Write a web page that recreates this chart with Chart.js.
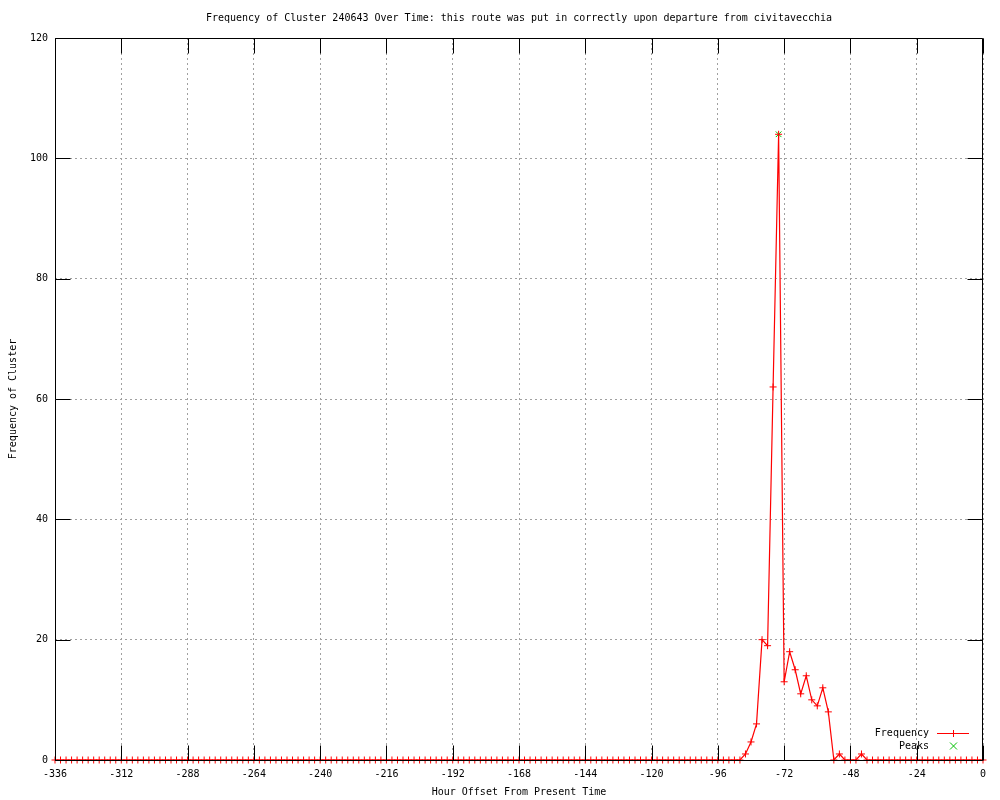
<!DOCTYPE html>
<html>
<head>
<meta charset="utf-8">
<title>Frequency of Cluster 240643</title>
<script src="https://cdn.jsdelivr.net/npm/chart.js@4/dist/chart.umd.min.js"></script>
<style>
  body { margin: 0; background: #fff; }
  canvas { display: block; }
</style>
</head>
<body>
<canvas id="chart" width="1000" height="800"></canvas>
<script>
// hour offsets, one sample every 2 hours
var hours = [
  -336, -334, -332, -330, -328, -326, -324, -322, -320, -318, -316, -314,
  -312, -310, -308, -306, -304, -302, -300, -298, -296, -294, -292, -290,
  -288, -286, -284, -282, -280, -278, -276, -274, -272, -270, -268, -266,
  -264, -262, -260, -258, -256, -254, -252, -250, -248, -246, -244, -242,
  -240, -238, -236, -234, -232, -230, -228, -226, -224, -222, -220, -218,
  -216, -214, -212, -210, -208, -206, -204, -202, -200, -198, -196, -194,
  -192, -190, -188, -186, -184, -182, -180, -178, -176, -174, -172, -170,
  -168, -166, -164, -162, -160, -158, -156, -154, -152, -150, -148, -146,
  -144, -142, -140, -138, -136, -134, -132, -130, -128, -126, -124, -122,
  -120, -118, -116, -114, -112, -110, -108, -106, -104, -102, -100, -98,
  -96, -94, -92, -90, -88, -86, -84, -82, -80, -78, -76, -74,
  -72, -70, -68, -66, -64, -62, -60, -58, -56, -54, -52, -50,
  -48, -46, -44, -42, -40, -38, -36, -34, -32, -30, -28, -26,
  -24, -22, -20, -18, -16, -14, -12, -10, -8, -6, -4, -2,
  0
];

var frequency = [
  0, 0, 0, 0, 0, 0, 0, 0, 0, 0, 0, 0,
  0, 0, 0, 0, 0, 0, 0, 0, 0, 0, 0, 0,
  0, 0, 0, 0, 0, 0, 0, 0, 0, 0, 0, 0,
  0, 0, 0, 0, 0, 0, 0, 0, 0, 0, 0, 0,
  0, 0, 0, 0, 0, 0, 0, 0, 0, 0, 0, 0,
  0, 0, 0, 0, 0, 0, 0, 0, 0, 0, 0, 0,
  0, 0, 0, 0, 0, 0, 0, 0, 0, 0, 0, 0,
  0, 0, 0, 0, 0, 0, 0, 0, 0, 0, 0, 0,
  0, 0, 0, 0, 0, 0, 0, 0, 0, 0, 0, 0,
  0, 0, 0, 0, 0, 0, 0, 0, 0, 0, 0, 0,
  0, 0, 0, 0, 0, 1, 3, 6, 20, 19, 62, 104,
  13, 18, 15, 11, 14, 10, 9, 12, 8, 0, 1, 0,
  0, 0, 1, 0, 0, 0, 0, 0, 0, 0, 0, 0,
  0, 0, 0, 0, 0, 0, 0, 0, 0, 0, 0, 0,
  0
];

var peakHours = [-74];
var peakValues = [104];

var titleText = 'Frequency of Cluster 240643 Over Time: this route was put in correctly upon departure from civitavecchia';
var FONT = "'DejaVu Sans Mono', 'Liberation Mono', monospace";
var TICK = 15;
var RED = '#ff0000';
var GREEN = '#00c000';

// gnuplot style box: border all round, inward major tics, title, key
var gnuplotFrame = {
  id: 'gnuplotFrame',
  afterDatasetsDraw: function (chart) {
    var ctx = chart.ctx, a = chart.chartArea;
    var x = chart.scales.x, y = chart.scales.y;
    var L = Math.round(a.left) + 0.5, R = Math.round(a.right) - 0.5;
    var T = Math.round(a.top) + 0.5, B = Math.round(a.bottom) + 0.5;
    ctx.save();
    ctx.strokeStyle = '#000';
    ctx.lineWidth = 1;
    ctx.beginPath();
    x.ticks.forEach(function (t) {
      var px = Math.round(x.getPixelForValue(t.value)) + 0.5;
      ctx.moveTo(px, B); ctx.lineTo(px, B - TICK);
      ctx.moveTo(px, T); ctx.lineTo(px, T + TICK);
    });
    y.ticks.forEach(function (t) {
      var py = Math.round(y.getPixelForValue(t.value)) + 0.5;
      ctx.moveTo(L, py); ctx.lineTo(L + TICK, py);
      ctx.moveTo(R, py); ctx.lineTo(R - TICK, py);
    });
    ctx.rect(L, T, R - L, B - T);
    ctx.stroke();
    ctx.restore();
  },
  afterDraw: function (chart) {
    var ctx = chart.ctx, a = chart.chartArea;
    ctx.save();
    ctx.font = '10px ' + FONT;
    ctx.fillStyle = '#000';
    ctx.textBaseline = 'middle';

    // title
    ctx.textAlign = 'center';
    ctx.fillText(titleText, (a.left + a.right) / 2, 18);

    // key, bottom right inside the plot
    var textRight = 929, sx0 = 937, sx1 = 969, sx = 953.5;
    ctx.textAlign = 'right';
    ctx.fillText(chart.data.datasets[0].label, textRight, 733);
    ctx.fillText(chart.data.datasets[1].label, textRight, 746);

    ctx.lineWidth = 1;
    ctx.strokeStyle = RED;
    ctx.beginPath();
    ctx.moveTo(sx0, 733.5); ctx.lineTo(sx1, 733.5);
    ctx.moveTo(sx, 730); ctx.lineTo(sx, 737);
    ctx.stroke();

    ctx.strokeStyle = GREEN;
    ctx.beginPath();
    ctx.moveTo(sx - 3.5, 742.5); ctx.lineTo(sx + 3.5, 749.5);
    ctx.moveTo(sx - 3.5, 749.5); ctx.lineTo(sx + 3.5, 742.5);
    ctx.stroke();
    ctx.restore();
  }
};

var gridStyle = { color: '#a0a0a0', lineWidth: 1, drawTicks: false };

new Chart(document.getElementById('chart'), {
  type: 'line',
  data: {
    datasets: [
      {
        label: 'Frequency',
        data: hours.map(function (h, i) { return { x: h, y: frequency[i] }; }),
        borderColor: RED,
        backgroundColor: RED,
        borderWidth: 1.2,
        pointStyle: 'cross',
        pointRadius: 3.5,
        pointBorderWidth: 1,
        pointBorderColor: RED,
        tension: 0,
        clip: false
      },
      {
        label: 'Peaks',
        data: peakHours.map(function (h, i) { return { x: h, y: peakValues[i] }; }),
        borderColor: GREEN,
        backgroundColor: GREEN,
        showLine: false,
        pointStyle: 'crossRot',
        pointRadius: 4,
        pointBorderWidth: 1,
        pointBorderColor: GREEN,
        clip: false
      }
    ]
  },
  options: {
    responsive: false,
    animation: false,
    devicePixelRatio: 1,
    layout: { padding: { left: 0, right: 17, top: 38, bottom: 0 } },
    plugins: {
      legend: { display: false },
      title: { display: false },
      tooltip: { enabled: false }
    },
    scales: {
      x: {
        type: 'linear',
        min: -336,
        max: 0,
        grid: gridStyle,
        border: { display: false, dash: [2, 3] },
        ticks: {
          stepSize: 24,
          autoSkip: false,
          maxRotation: 0,
          padding: 8,
          color: '#000',
          font: { family: FONT, size: 10 }
        },
        title: {
          display: true,
          text: 'Hour Offset From Present Time',
          color: '#000',
          font: { family: FONT, size: 10 },
          padding: { top: 0, bottom: 2 }
        },
        afterFit: function (scale) { scale.height = 40; }
      },
      y: {
        min: 0,
        max: 120,
        grid: gridStyle,
        border: { display: false, dash: [2, 3] },
        ticks: {
          stepSize: 20,
          padding: 7,
          color: '#000',
          font: { family: FONT, size: 10 }
        },
        title: {
          display: true,
          text: 'Frequency of Cluster',
          color: '#000',
          font: { family: FONT, size: 10 },
          padding: { top: 7, bottom: 0 }
        },
        afterFit: function (scale) { scale.width = 55; }
      }
    }
  },
  plugins: [gnuplotFrame]
});
</script>
</body>
</html>
